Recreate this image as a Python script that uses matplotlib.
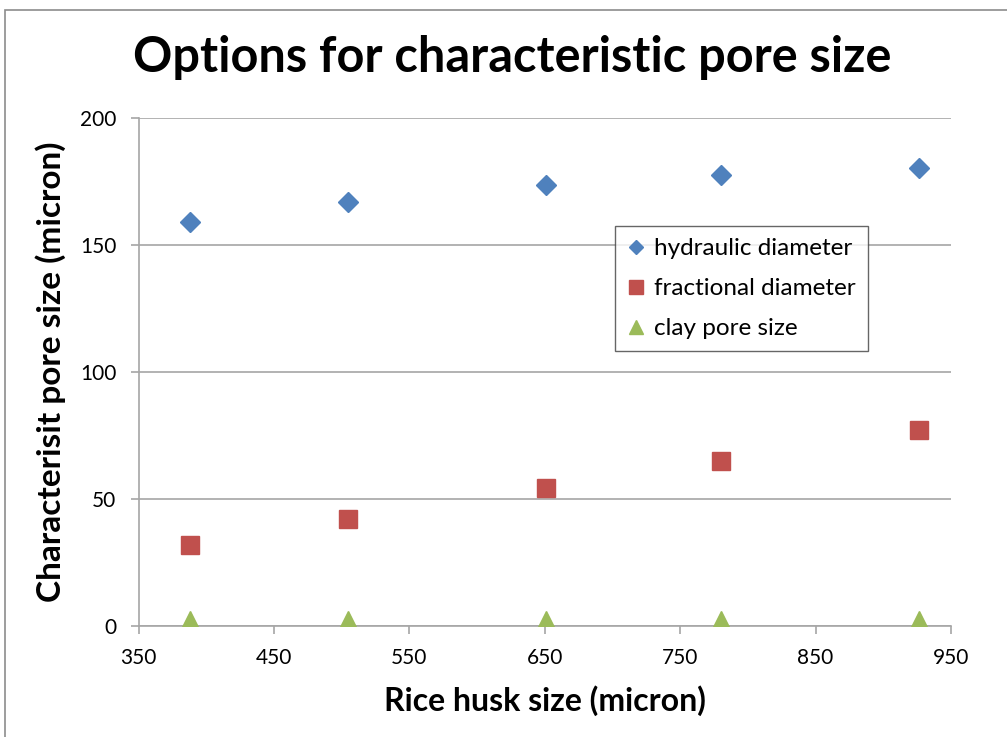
import matplotlib
matplotlib.use("Agg")
import matplotlib.pyplot as plt
from matplotlib.patches import Rectangle

husk_size = [388, 505, 651, 780, 926]
hydraulic = [159, 167, 173.5, 177.5, 180.5]
fractional = [32, 42, 54.5, 65, 77]
clay = [2, 2, 2, 2, 2]
xticks = [350, 450, 550, 650, 750, 850, 950]
yticks = [0, 50, 100, 150, 200]

plt.rcParams['font.family'] = ['Lato', 'DejaVu Sans']

W, H = 1007, 737
fig = plt.figure(figsize=(W / 100, H / 100), dpi=100)
fig.patches.append(Rectangle((5 / W, -0.01), 1.1, 1 - 10 / H + 0.01,
                             transform=fig.transFigure, fill=False,
                             edgecolor='#8c8c8c', linewidth=1.2))

ax = fig.add_axes([138.5 / W, 1 - 626 / H, (951 - 138.5) / W, (626 - 118) / H])

grid_c = '#a6a6a6'
for y in yticks:
    ax.axhline(y, color=grid_c, linewidth=1.2, zorder=0)

ax.plot(husk_size, hydraulic, linestyle='none', marker='D', markersize=10,
        color='#4F81BD', label='hydraulic diameter', zorder=3)
ax.plot(husk_size, fractional, linestyle='none', marker='s', markersize=13,
        color='#C0504D', label='fractional diameter', zorder=3)
ax.plot(husk_size, clay, linestyle='none', marker='^', markersize=14,
        color='#9BBB59', label='clay pore size', zorder=3)

ax.set_xlim(350, 950)
ax.set_ylim(0, 200)
ax.set_xticks(xticks)
ax.set_yticks(yticks)
for s in ['top', 'right']:
    ax.spines[s].set_visible(False)
for s in ['left', 'bottom']:
    ax.spines[s].set_color(grid_c)
    ax.spines[s].set_linewidth(1.2)
ax.tick_params(axis='both', direction='out', color=grid_c, width=1.2,
               length=6, labelsize=15, labelcolor='black')
ax.tick_params(axis='x', pad=10)
ax.tick_params(axis='y', pad=10)

ax.set_xlabel('Rice husk size (micron)', fontsize=23, fontweight='bold', labelpad=12)
ax.set_ylabel('Characterisit pore size (micron)', fontsize=24, fontweight='bold', labelpad=10)

fig.text(512 / W, 1 - 58 / H, 'Options for characteristic pore size',
         ha='center', va='center', fontsize=35, fontweight='bold')

leg = ax.legend(loc='upper left', bbox_to_anchor=((615 - 138.5) / (951 - 138.5), (626 - 226) / (626 - 118)),
                fontsize=17.5, frameon=True, fancybox=False, edgecolor='#404040',
                handlelength=0.7, handletextpad=0.4, labelspacing=0.78,
                borderpad=0.5, markerscale=0.75, borderaxespad=0)
leg.get_frame().set_linewidth(1.0)

fig.savefig('out.png', dpi=100)
